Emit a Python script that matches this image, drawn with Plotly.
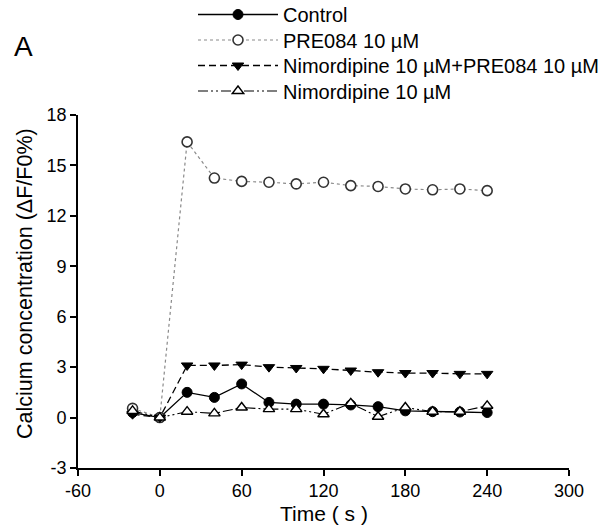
import plotly.graph_objects as go

time_s = [-20, 0, 20, 40, 60, 80, 100, 120, 140, 160, 180, 200, 220, 240]
control = [0.3, 0.0, 1.5, 1.2, 2.0, 0.9, 0.8, 0.8, 0.75, 0.65, 0.4, 0.35, 0.33, 0.3]
pre084 = [0.55, 0.0, 16.4, 14.25, 14.05, 14.0, 13.9, 14.0, 13.8, 13.75, 13.6, 13.55, 13.6, 13.5]
nimo_pre = [0.2, 0.0, 3.1, 3.1, 3.15, 3.0, 2.95, 2.9, 2.8, 2.7, 2.65, 2.65, 2.6, 2.6]
nimo = [0.4, 0.0, 0.35, 0.25, 0.6, 0.5, 0.5, 0.2, 0.85, 0.05, 0.6, 0.35, 0.35, 0.7]

names = ["Control", "PRE084 10 µM", "Nimordipine 10 µM+PRE084 10 µM", "Nimordipine 10 µM"]
x_ticks = [-60, 0, 60, 120, 180, 240, 300]
y_ticks = [-3, 0, 3, 6, 9, 12, 15, 18]
x_title = "Time ( s )"
y_title = "Calcium concentration (ΔF/F0%)"
panel_label = "A"

FONT = "Liberation Sans, Arial, sans-serif"

W, H = 608, 528
ML, MR, MT, MB = 78, 39, 115, 60
PW = W - ML - MR
PH = H - MT - MB


def px_x(p):
    return (p - ML) / PW


def px_y(p):
    return 1 - (p - MT) / PH


fig = go.Figure()
fig.add_trace(go.Scatter(
    x=time_s, y=control, name=names[0], mode="lines+markers", legend="legend",
    line=dict(color="black", width=1.3),
    marker=dict(symbol="circle", size=10, color="black", line=dict(color="black", width=1))))
fig.add_trace(go.Scatter(
    x=time_s, y=pre084, name=names[1], mode="lines+markers", legend="legend2",
    line=dict(color="#8a8a8a", width=1.2, dash="dot"),
    marker=dict(symbol="circle", size=10, color="white", line=dict(color="#333333", width=1.6))))
fig.add_trace(go.Scatter(
    x=time_s, y=nimo_pre, name=names[2], mode="lines+markers", legend="legend3",
    line=dict(color="black", width=1.3, dash="7px,4px"),
    marker=dict(symbol="triangle-down", size=10, color="black", line=dict(color="black", width=1))))
fig.add_trace(go.Scatter(
    x=time_s, y=nimo, name=names[3], mode="lines+markers", legend="legend4",
    line=dict(color="black", width=1.1, dash="10px,3px,2px,3px,2px,3px"),
    marker=dict(symbol="triangle-up", size=10, color="white", line=dict(color="black", width=1.4))))

axis_common = dict(
    showline=True, linecolor="black", linewidth=1.6,
    ticks="outside", ticklen=6, tickwidth=1.6, tickcolor="black",
    showgrid=False, zeroline=False, mirror=False, automargin=False,
    tickfont=dict(family=FONT, size=18, color="black"),
)


def leg(ypix):
    return dict(x=px_x(193), xanchor="left", y=px_y(ypix), yanchor="middle",
                font=dict(family=FONT, size=20, color="black"),
                itemwidth=80, bgcolor="rgba(0,0,0,0)")


fig.update_layout(
    width=W, height=H,
    margin=dict(l=ML, r=MR, t=MT, b=MB, autoexpand=False),
    paper_bgcolor="white", plot_bgcolor="white",
    font=dict(family=FONT, color="black"),
    xaxis=dict(range=[-60, 300], tickvals=x_ticks, ticktext=[str(v) for v in x_ticks],
               **axis_common),
    yaxis=dict(range=[-3, 18], tickvals=y_ticks, ticktext=[str(v) for v in y_ticks],
               **axis_common),
    legend=leg(14.5),
    legend2=leg(40),
    legend3=leg(65.5),
    legend4=leg(91),
    showlegend=True,
    annotations=[
        dict(text=panel_label, xref="paper", yref="paper",
             x=px_x(12), y=px_y(46), xanchor="left", yanchor="middle", showarrow=False,
             font=dict(family=FONT, size=28, color="black")),
        dict(text=x_title, xref="paper", yref="paper",
             x=0.5, y=px_y(513), xanchor="center", yanchor="middle", showarrow=False,
             font=dict(family=FONT, size=21, color="black")),
        dict(text=y_title, xref="paper", yref="paper", textangle=-90,
             x=px_x(25), y=px_y(284), xanchor="center", yanchor="middle", showarrow=False,
             font=dict(family=FONT, size=21.5, color="black")),
    ],
)

fig.write_html(
    "out.html",
    config={"displayModeBar": False},
    post_script="document.body.style.margin='0';document.body.style.padding='0';"
                "document.body.style.overflow='hidden';",
)
